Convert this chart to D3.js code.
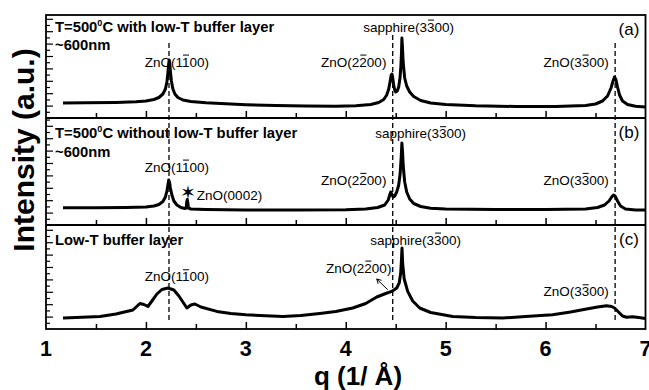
<!DOCTYPE html>
<html>
<head>
<meta charset="utf-8">
<script src="https://cdn.jsdelivr.net/npm/d3@7"></script>
<style>
  body { margin: 0; background: #fff; }
  text { font-family: Arial, "Liberation Sans", sans-serif; fill: #000; }
</style>
</head>
<body>
<svg id="chart" width="649" height="390"></svg>
<script>
// ---- data (q in 1/A, intensity in arbitrary units per panel)
var panelA = [[1.17,15],[1.4,15.2],[1.7,15.6],[1.9,16.3],[2.0,17],[2.08,18.5],[2.13,20.5],[2.17,24],[2.195,29],[2.21,36],[2.22,45],[2.228,54],[2.233,58],[2.238,56],[2.245,47],[2.255,37],[2.27,29],[2.29,24],[2.32,20.5],[2.37,18],[2.45,16.5],[2.6,15.3],[2.8,14.2],[3.0,13.3],[3.3,12.4],[3.6,12],[3.9,11.8],[4.1,12.2],[4.25,13.5],[4.33,15.5],[4.38,18.5],[4.41,23],[4.43,29],[4.445,37],[4.455,43],[4.462,44],[4.47,40],[4.48,33],[4.49,28],[4.5,26],[4.515,27],[4.53,31],[4.543,40],[4.552,52],[4.558,66],[4.562,80],[4.567,72],[4.575,55],[4.59,40],[4.61,32],[4.64,26],[4.68,21.5],[4.75,17.5],[4.85,15],[5.0,13.5],[5.3,12.2],[5.7,11.5],[6.1,11.5],[6.4,12.5],[6.5,14],[6.57,17],[6.62,22],[6.655,30],[6.675,37],[6.69,41],[6.705,38],[6.72,31],[6.74,23],[6.77,17],[6.82,13.5],[6.9,11.8],[7.0,11]];

var panelB = [[1.17,17.3],[1.5,17.3],[1.8,17.5],[2.0,18],[2.08,19],[2.13,20.5],[2.17,23.5],[2.195,28],[2.21,34],[2.22,40],[2.228,45],[2.236,43],[2.245,37],[2.26,30],[2.28,24],[2.31,20],[2.35,17.5],[2.39,16.5],[2.403,17],[2.408,23],[2.414,25.5],[2.42,22],[2.425,17],[2.45,16],[2.6,15.5],[3.0,15],[3.5,15],[4.0,15.3],[4.2,16],[4.32,17.5],[4.39,20],[4.425,25],[4.44,30],[4.45,33],[4.46,31],[4.475,28],[4.49,29],[4.51,33],[4.53,40],[4.545,52],[4.555,68],[4.562,82],[4.568,74],[4.576,58],[4.59,43],[4.61,33],[4.64,26],[4.68,21.5],[4.75,18.5],[4.85,16.8],[5.0,16],[5.5,15.5],[6.0,15.5],[6.4,16],[6.52,17.5],[6.59,20],[6.635,24],[6.665,28.5],[6.68,30],[6.695,29],[6.72,24],[6.75,19],[6.8,16],[6.9,15],[7.0,15]];

var panelC = [[1.17,11],[1.3,11.5],[1.54,12.6],[1.7,15],[1.87,19],[1.94,25.5],[1.98,24.5],[2.02,22.5],[2.06,28],[2.11,35],[2.16,39.5],[2.22,41],[2.28,39],[2.33,33],[2.37,27],[2.41,21],[2.45,24],[2.49,25],[2.55,22],[2.71,17.6],[2.85,15.5],[3.0,14.3],[3.2,13.2],[3.37,12.6],[3.55,13.5],[3.74,15.5],[3.9,17.5],[4.07,21],[4.2,25.5],[4.31,32],[4.4,35.5],[4.46,37.6],[4.51,41],[4.535,46],[4.55,56],[4.558,70],[4.563,81],[4.57,65],[4.585,50],[4.62,37.6],[4.67,28],[4.74,21],[4.85,16.5],[5.07,12.6],[5.3,11.5],[5.57,11],[5.8,12.5],[6.07,14.3],[6.25,17],[6.41,20],[6.52,22],[6.61,23.3],[6.66,22.5],[6.69,21],[6.73,17],[6.77,13],[6.81,11.8],[6.87,12.2],[6.93,11.5],[7.0,10.6]];

var series = [panelA, panelB, panelC];
var xTickLabels = ["1","2","3","4","5","6","7"];
var refLines = [2.231, 4.47, 6.696];
var panelTags = ["(a)","(b)","(c)"];

var headers = [
  {panel:0, pre:"T=500", sup:"0", post:"C with low-T buffer layer", q:1.09, y:86.3},
  {panel:0, pre:"~600nm", q:1.09, y:68},
  {panel:1, pre:"T=500", sup:"0", post:"C without low-T buffer layer", q:1.09, y:86.7},
  {panel:1, pre:"~600nm", q:1.09, y:68.3},
  {panel:2, pre:"Low-T buffer layer", q:1.09, y:84.3}
];

// bar = index of the character carrying the overbar
var peakLabels = [
  {panel:0, text:"ZnO(1100)", bar:5, q:2.31, y:51.3},
  {panel:0, text:"sapphire(3300)", bar:10, q:4.63, y:86.3},
  {panel:0, text:"ZnO(2200)", bar:5, q:4.08, y:51.3},
  {panel:0, text:"ZnO(3300)", bar:5, q:6.305, y:51.3},
  {panel:1, text:"ZnO(1100)", bar:5, q:2.31, y:53.3},
  {panel:1, text:"ZnO(0002)", bar:null, q:2.51, y:25, anchor:"start"},
  {panel:1, text:"sapphire(3300)", bar:10, q:4.75, y:86.7},
  {panel:1, text:"ZnO(2200)", bar:5, q:4.08, y:40},
  {panel:1, text:"ZnO(3300)", bar:5, q:6.305, y:40},
  {panel:2, text:"ZnO(1100)", bar:5, q:2.31, y:47.6},
  {panel:2, text:"sapphire(3300)", bar:10, q:4.70, y:84.3},
  {panel:2, text:"ZnO(2200)", bar:5, q:4.13, y:56.3},
  {panel:2, text:"ZnO(3300)", bar:5, q:6.305, y:32.6}
];

var starMark = {panel:1, q:2.424, y:33.3};
var arrowC = {panel:2, q1:4.42, y1:39.3, q2:4.31, y2:50};

// ---- layout
var left = 46, right = 645.5;
var tops = [15, 118, 225], bottoms = [118, 225, 329];

var svg = d3.select("#chart");

var x = d3.scaleLinear().domain([1, 7]).range([left, right]);

var yScales = tops.map(function(t, i){
  return d3.scaleLinear().domain([0, bottoms[i] - t]).range([bottoms[i], t]);
});

// ticks for each panel
tops.forEach(function(t, i){
  var ys = yScales[i];
  var h = bottoms[i] - t;

  // bottom x ticks pointing up (inward)
  svg.append("g")
    .attr("transform", "translate(0," + bottoms[i] + ")")
    .call(d3.axisTop(x).tickValues(d3.range(1.5, 7, 1)).tickSize(5).tickFormat(""))
    .call(function(g){ g.select(".domain").remove(); g.selectAll("line").attr("stroke-width", 1.5); });
  svg.append("g")
    .attr("transform", "translate(0," + bottoms[i] + ")")
    .call(d3.axisTop(x).tickValues(d3.range(2, 7, 1)).tickSize(7).tickFormat(""))
    .call(function(g){ g.select(".domain").remove(); g.selectAll("line").attr("stroke-width", 1.5); });

  // left ticks pointing right (inward)
  svg.append("g")
    .attr("transform", "translate(" + left + ",0)")
    .call(d3.axisRight(ys).tickValues(d3.range(6.2, h - 1, 12.4)).tickSize(4).tickFormat(""))
    .call(function(g){ g.select(".domain").remove(); g.selectAll("line").attr("stroke-width", 1.2); });
  svg.append("g")
    .attr("transform", "translate(" + left + ",0)")
    .call(d3.axisRight(ys).tickValues(d3.range(12.4, h - 1, 12.4)).tickSize(7).tickFormat(""))
    .call(function(g){ g.select(".domain").remove(); g.selectAll("line").attr("stroke-width", 1.2); });
});

// reference dashed lines
var refTop = [43, 35, 43];
svg.selectAll(".ref")
  .data(refLines)
  .enter().append("line")
  .attr("class", "ref")
  .attr("x1", function(d){ return x(d); })
  .attr("x2", function(d){ return x(d); })
  .attr("y1", function(d, i){ return refTop[i]; })
  .attr("y2", bottoms[2] - 7)
  .attr("stroke", "#000")
  .attr("stroke-width", 1.3)
  .attr("stroke-dasharray", "5,3");

// curves
series.forEach(function(data, i){
  var ys = yScales[i];
  svg.append("path")
    .datum(data)
    .attr("d", d3.line().x(function(d){ return x(d[0]); }).y(function(d){ return ys(d[1]); }))
    .attr("fill", "none")
    .attr("stroke", "#000")
    .attr("stroke-width", 3)
    .attr("stroke-linejoin", "round");
});

// frame and panel separators
svg.append("rect")
  .attr("x", left).attr("y", tops[0])
  .attr("width", right - left).attr("height", bottoms[2] - tops[0])
  .attr("fill", "none").attr("stroke", "#000").attr("stroke-width", 1.8);
svg.selectAll(".sep")
  .data([bottoms[0], bottoms[1]])
  .enter().append("line")
  .attr("x1", left).attr("x2", right)
  .attr("y1", function(d){ return d; }).attr("y2", function(d){ return d; })
  .attr("stroke", "#000").attr("stroke-width", 1.8);

// header texts
headers.forEach(function(d){
  var ys = yScales[d.panel];
  var t = svg.append("text")
    .attr("x", x(d.q)).attr("y", ys(d.y))
    .attr("font-size", 14.8).attr("font-weight", "bold");
  t.append("tspan").text(d.pre);
  if (d.sup) {
    t.append("tspan").attr("dy", -6).attr("font-size", 9).text(d.sup);
    t.append("tspan").attr("dy", 6).text(d.post);
  }
});

// peak labels with overbars
peakLabels.forEach(function(d){
  var ys = yScales[d.panel];
  var fs = 13.5;
  var t = svg.append("text")
    .attr("x", x(d.q)).attr("y", ys(d.y))
    .attr("font-size", fs)
    .attr("text-anchor", d.anchor || "middle")
    .text(d.text);
  if (d.bar != null) {
    var n = t.node();
    var x0 = n.getStartPositionOfChar(d.bar).x;
    var x1 = n.getEndPositionOfChar(d.bar).x;
    svg.append("line")
      .attr("x1", x0 + 1).attr("x2", x1 - 0.5)
      .attr("y1", ys(d.y) - fs * 0.86).attr("y2", ys(d.y) - fs * 0.86)
      .attr("stroke", "#000").attr("stroke-width", 1);
  }
});

// panel tags
panelTags.forEach(function(s, i){
  svg.append("text")
    .attr("x", x(6.835)).attr("y", tops[i] + 20)
    .attr("font-size", 17).attr("text-anchor", "middle")
    .text(s);
});

// star marker
svg.append("text")
  .attr("x", x(starMark.q)).attr("y", yScales[starMark.panel](starMark.y) + 7)
  .attr("font-size", 19).attr("text-anchor", "middle")
  .attr("font-family", "DejaVu Sans")
  .text("\u2736");

// arrow in panel c
var ysc = yScales[arrowC.panel];
var ax1 = x(arrowC.q1), ay1 = ysc(arrowC.y1), ax2 = x(arrowC.q2), ay2 = ysc(arrowC.y2);
svg.append("line")
  .attr("x1", ax1).attr("y1", ay1).attr("x2", ax2).attr("y2", ay2)
  .attr("stroke", "#000").attr("stroke-width", 1);
var ang = Math.atan2(ay1 - ay2, ax1 - ax2);
[0.5, -0.5].forEach(function(da){
  svg.append("line")
    .attr("x1", ax2).attr("y1", ay2)
    .attr("x2", ax2 + 5 * Math.cos(ang + da)).attr("y2", ay2 + 5 * Math.sin(ang + da))
    .attr("stroke", "#000").attr("stroke-width", 1);
});

// x tick labels
svg.selectAll(".xtl")
  .data(xTickLabels)
  .enter().append("text")
  .attr("class", "xtl")
  .attr("x", function(d){ return x(+d); })
  .attr("y", 356)
  .attr("text-anchor", "middle")
  .attr("font-size", 21.5).attr("font-weight", "bold")
  .text(function(d){ return d; });

// axis titles
svg.append("text")
  .attr("x", 358).attr("y", 385)
  .attr("text-anchor", "middle")
  .attr("font-size", 26).attr("font-weight", "bold")
  .text("q (1/ \u00C5)");

svg.append("text")
  .attr("transform", "translate(34,150) rotate(-90)")
  .attr("text-anchor", "middle")
  .attr("font-size", 30).attr("font-weight", "bold")
  .text("Intensity (a.u.)");
</script>
</body>
</html>
